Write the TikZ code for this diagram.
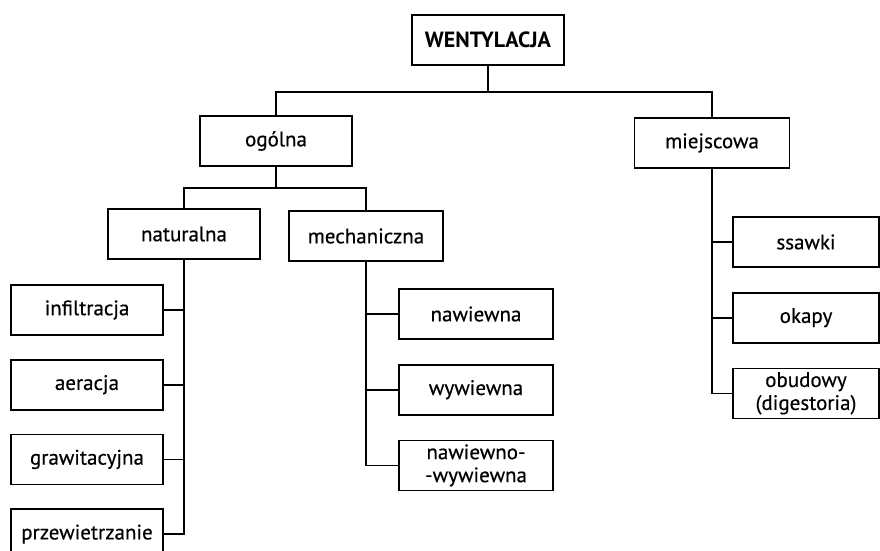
\documentclass[tikz,border=0pt]{standalone}
\usepackage{fontspec}
\setmainfont{PT Sans}[FakeBold=0.4, BoldFeatures={FakeBold=0}]
\usetikzlibrary{positioning}
\tikzset{
  box/.style = {draw, line width=1.7pt, rectangle, minimum height=50pt, minimum width=152pt, inner sep=2pt, align=center, font=\fontsize{21}{23}\selectfont},
  mbox/.style = {box, minimum width=154pt},
  sbox/.style = {box, minimum width=146pt},
  line/.style = {line width=1.7pt}
}

\begin{document}
\begin{tikzpicture}[x=1pt, y=-1pt, node distance=24pt]
  \useasboundingbox[fill=white] (0,0) rectangle (880,550);
  \node[box, font=\bfseries\fontsize{22}{23}\selectfont] (went) at (488,40) {WENTYLACJA};
  \node[box] (ogol) at (276,141) {ogólna};
  \node[box, minimum width=155pt] (miej) at (712,143) {miejscowa};
  \node[box] (natu) at (184,234) {naturalna};
  \node[mbox] (mech) at (366,236) {mechaniczna};
  % naturalna
  \node[box] (infi) at (87,310) {infiltracja};
  \node[box, below=23pt of infi] (aera) {aeracja};
  \node[box, below=23pt of aera] (graw) {grawitacyjna};
  \node[box, below=23pt of graw] (prze) {przewietrzanie};
  % mechaniczna
  \node[mbox] (nawi) at (476,314) {nawiewna};
  \node[mbox, below=of nawi] (wywi) {wywiewna};
  \node[mbox, below=of wywi] (nawy) {nawiewno-\\-wywiewna};
  % miejscowa
  \node[sbox] (ssaw) at (806,242) {ssawki};
  \node[sbox, below=of ssaw] (okap) {okapy};
  \node[sbox, below=of okap] (obud) {obudowy\\(digestoria)};
  % szyny
  \coordinate (b1) at (488,92);
  \coordinate (b2) at (276,188);
  \draw[line] (went.south) -- (b1);
  \draw[line] (ogol.north) |- (b1) -| (miej.north);
  \draw[line] (ogol.south) -- (b2);
  \draw[line] (natu.north) |- (b2) -| (mech.north);
  \draw[line] (natu.south) |- (prze.east);
  \draw[line] (infi.east) -| (natu.south);
  \draw[line] (aera.east) -| (natu.south);
  \draw[line] (graw.east) -| (natu.south);
  \draw[line] (mech.south) |- (nawy.west);
  \draw[line] (nawi.west) -| (mech.south);
  \draw[line] (wywi.west) -| (mech.south);
  \draw[line] (miej.south) |- (obud.west);
  \draw[line] (ssaw.west) -| (miej.south);
  \draw[line] (okap.west) -| (miej.south);
\end{tikzpicture}
\end{document}
